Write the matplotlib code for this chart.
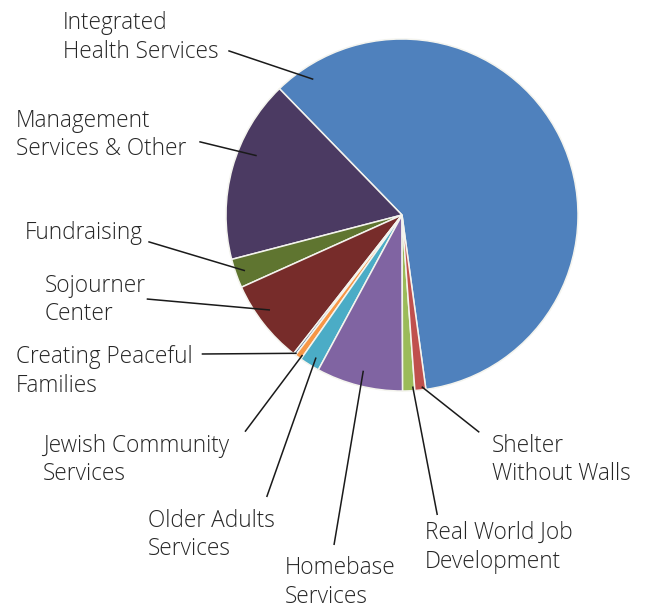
import matplotlib
matplotlib.use("Agg")
import matplotlib.pyplot as plt

# ---- data (percent of total), counter-clockwise order ----
categories = ["Integrated Health Services", "Management Services & Other", "Fundraising",
              "Sojourner Center", "Creating Peaceful Families", "Jewish Community Services",
              "Older Adults Services", "Homebase Services", "Real World Job Development",
              "Shelter Without Walls"]
values = [60.1, 16.8, 2.67, 7.71, 0.22, 0.61, 1.85, 7.94, 1.11, 1.00]
colors = ["#4F81BD", "#4B3A62", "#5F7530", "#772C2A", "#3F5F8F", "#F79646",
          "#4BACC6", "#8064A2", "#9BBB59", "#C0504D"]

# label lines (as displayed), text position (left x, first baseline y in px from top)
label_lines = [["Integrated", "Health Services"], ["Management", "Services & Other"],
               ["Fundraising"], ["Sojourner", "Center"], ["Creating Peaceful", "Families"],
               ["Jewish Community", "Services"], ["Older Adults", "Services"],
               ["Homebase", "Services"], ["Real World Job", "Development"],
               ["Shelter", "Without Walls"]]
label_pos = [(63, 29.3), (16, 126.7), (25, 239), (45, 291.7), (16, 363.3),
             (42.7, 451.7), (148.3, 526.7), (285, 574.5), (425, 539.3), (491.7, 451.7)]
leader = [((228.3, 50.7), (313.3, 79.3)), ((199.3, 141.7), (256.7, 155.7)),
          ((148.3, 241.7), (245, 270.7)), ((146.7, 299), (270, 310)),
          ((201.7, 354), (296.7, 353.3)), ((245, 431.7), (302.5, 355)),
          ((266.7, 497), (316, 357.5)), ((334, 545), (363.3, 370.7)),
          ((437.3, 515), (412.7, 386.5)), ((479.3, 432.3), (421.7, 386.7))]

W, H = 649, 608
fig = plt.figure(figsize=(W / 100, H / 100), dpi=100)
ax = fig.add_axes([0, 0, 1, 1])

cx, cy, r = 402, H - 215, 176
ax.pie(values, colors=colors, startangle=277.8, counterclock=True,
       center=(cx, cy), radius=r, frame=True,
       wedgeprops=dict(edgecolor="#F4F4EE", linewidth=1.1))
ax.set_xlim(0, W)
ax.set_ylim(0, H)
ax.set_aspect("equal")
ax.axis("off")

line_gap = 28.2
for lines, (lx, ly), ((x0, y0), (x1, y1)) in zip(label_lines, label_pos, leader):
    for i, t in enumerate(lines):
        ax.text(lx, H - (ly + i * line_gap), t, ha="left", va="baseline",
                fontsize=16.3, fontweight="light",
                family=["Open Sans", "DejaVu Sans"], color="#262626")
    ax.plot([x0, x1], [H - y0, H - y1], color="#1A1A1A", linewidth=1.1,
            solid_capstyle="butt")

fig.savefig("out.png", dpi=100)
